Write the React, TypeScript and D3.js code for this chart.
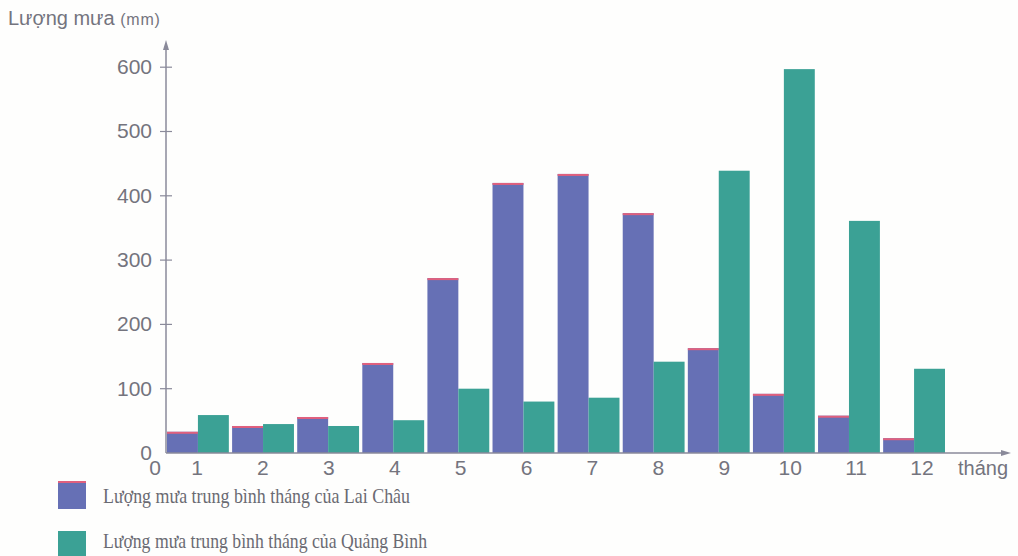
import React from "react";
import * as d3 from "d3";

const months = ["1", "2", "3", "4", "5", "6", "7", "8", "9", "10", "11", "12"];
const laiChau = [33, 42, 56, 140, 272, 420, 434, 373, 163, 92, 58, 23];
const quangBinh = [59, 45, 42, 51, 100, 80, 86, 142, 439, 597, 361, 131];
const yTicks = [0, 100, 200, 300, 400, 500, 600];
const legendLabels = [
  "Lượng mưa trung bình tháng của Lai Châu",
  "Lượng mưa trung bình tháng của Quảng Bình",
];
const legendWidths = [307, 324];

const W = 1018;
const H = 556;
const axisX = 166;
const baseY = 453;
const colLC = "#6670b5";
const colQB = "#3ba195";
const textCol = "#74747e";
const axisCol = "#8a8a9a";
const sans = "Liberation Sans, Arial, sans-serif";

export default function App() {
  const x = d3.scaleBand<string>().domain(months).range([167, 945]).paddingInner(0.05).paddingOuter(0);
  const xLabel = d3.scalePoint<string>().domain(months).range([197, 922]);
  const y = d3.scaleLinear().domain([0, 600]).range([baseY, 67.2]);
  const bw = x.bandwidth() / 2;

  return (
    <svg width={W} height={H} style={{ position: "absolute", left: 0, top: 0, background: "#fff" }}>
      <rect width={W} height={H} fill="#fefefd" />
      {/* Y axis title */}
      <text x={8} y={25} fill={textCol} fontFamily={sans} fontSize={20}>
        Lượng mưa{" "}
        <tspan fontSize={16} letterSpacing={0.8}>
          (mm)
        </tspan>
      </text>
      {/* bars */}
      {months.map((m, i) => (
        <g key={m}>
          <rect x={x(m)!} y={y(laiChau[i])} width={bw} height={baseY - y(laiChau[i])} fill={colLC} />
          <rect x={x(m)!} y={y(laiChau[i])} width={bw} height={2} fill="#e0607e" />
          <rect x={x(m)! + bw} y={y(quangBinh[i])} width={bw} height={baseY - y(quangBinh[i])} fill={colQB} />
        </g>
      ))}
      {/* Y axis */}
      <line x1={axisX} x2={axisX} y1={baseY} y2={46} stroke={axisCol} strokeWidth={1.5} />
      <path d={`M${axisX - 3},${50} L${axisX},${40} L${axisX + 3},${50} Z`} fill={axisCol} />
      {yTicks.map((t) => (
        <g key={t}>
          {t > 0 && <line x1={axisX - 6} x2={axisX + 6} y1={y(t)} y2={y(t)} stroke={axisCol} strokeWidth={1.2} />}
          <text x={152} y={y(t)} dy="0.33em" textAnchor="end" fill={textCol} fontFamily={sans} fontSize={21}>
            {t}
          </text>
        </g>
      ))}
      {/* X axis */}
      <line x1={axisX} x2={1004} y1={baseY} y2={baseY} stroke={axisCol} strokeWidth={1.5} />
      <path d={`M1001,${baseY - 3} L1011,${baseY} L1001,${baseY + 3} Z`} fill={axisCol} />
      <text x={155} y={475} textAnchor="middle" fill={textCol} fontFamily={sans} fontSize={21}>
        0
      </text>
      {months.map((m) => (
        <text key={m} x={xLabel(m)!} y={475} textAnchor="middle" fill={textCol} fontFamily={sans} fontSize={21}>
          {m}
        </text>
      ))}
      <text x={958} y={475} fill={textCol} fontFamily={sans} fontSize={20}>
        tháng
      </text>
      {/* legend */}
      {legendLabels.map((l, i) => (
        <g key={l}>
          <rect x={58} y={481 + i * 50} width={28} height={28} fill={i === 0 ? colLC : colQB} />
          {i === 0 && <rect x={58} y={481} width={28} height={2} fill="#e0607e" />}
          <text
            x={103}
            y={503 + i * 45}
            fill="#6a6a72"
            fontFamily="Liberation Serif, Times New Roman, serif"
            fontSize={22}
            textLength={legendWidths[i]}
            lengthAdjust="spacingAndGlyphs"
          >
            {l}
          </text>
        </g>
      ))}
    </svg>
  );
}
